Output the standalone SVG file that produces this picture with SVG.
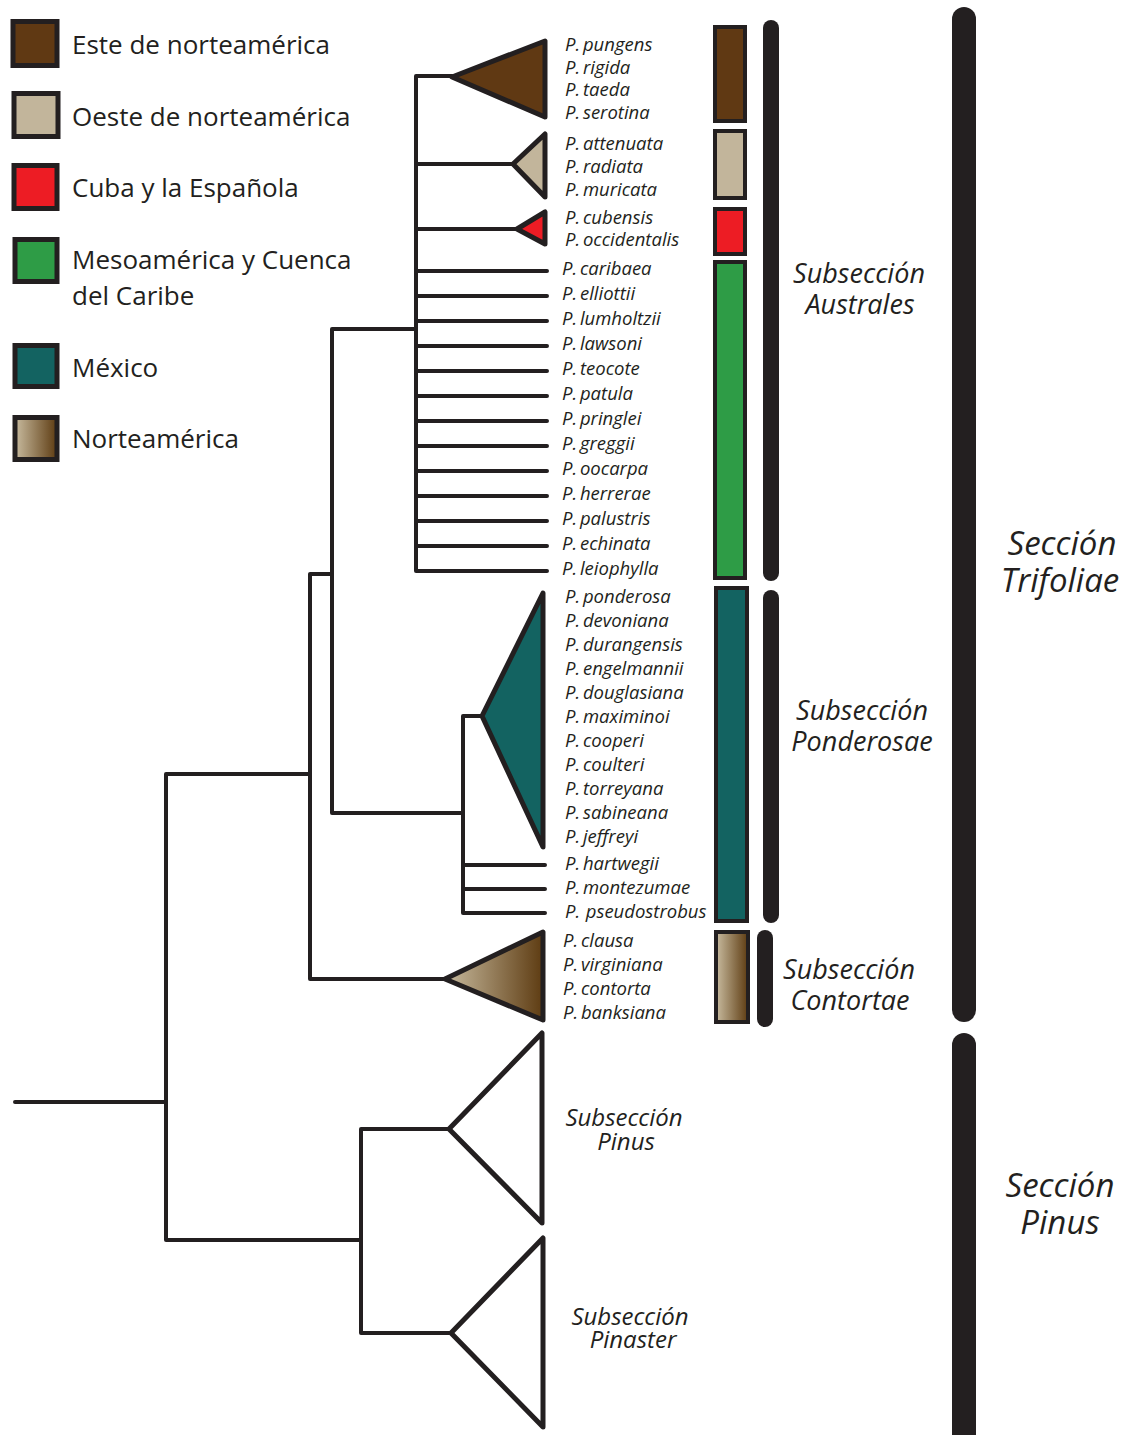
<svg xmlns="http://www.w3.org/2000/svg" width="1123" height="1435" viewBox="0 0 1123 1435">
<style>
.ln{fill:none;stroke:#231f20;stroke-width:4;stroke-linecap:round;stroke-linejoin:miter}
.tri{stroke:#231f20;stroke-width:5;stroke-linejoin:round}
.box{stroke:#231f20;stroke-width:5}
.bar{stroke:#231f20;stroke-width:4}
.blk{fill:#231f20}
.leg{font-family:"Open Sans","Noto Sans",sans-serif;font-size:26px;fill:#231f20}
.sp{font-family:"Open Sans","Noto Sans",sans-serif;font-style:italic;font-size:18.5px;fill:#231f20;white-space:pre;word-spacing:-2px}
.sub{font-family:"Open Sans","Noto Sans",sans-serif;font-style:italic;font-size:27px;fill:#231f20;text-anchor:middle}
.sub2{font-family:"Open Sans","Noto Sans",sans-serif;font-style:italic;font-size:24px;fill:#231f20;text-anchor:middle}
.sec{font-family:"Open Sans","Noto Sans",sans-serif;font-style:italic;font-size:33px;fill:#231f20;text-anchor:middle}
.c1{fill:#603913}.c2{fill:#c2b59b}.c3{fill:#ed1c24}.c4{fill:#2e9c46}.c5{fill:#136361}.c6{fill:url(#grad)}
</style>
<defs>
<linearGradient id="grad" x1="0" y1="0" x2="1" y2="0">
<stop offset="0" stop-color="#c8bb9f"/>
<stop offset="1" stop-color="#5e3c12"/>
</linearGradient>
</defs>

<g id="legend">
<g id="leg-este"><rect class="box c1" x="13" y="21.5" width="44" height="44"/><text class="leg" x="72" y="54">Este de norteamérica</text></g>
<g id="leg-oeste"><rect class="box c2" x="14" y="93.5" width="44" height="43"/><text class="leg" x="72" y="126">Oeste de norteamérica</text></g>
<g id="leg-cuba"><rect class="box c3" x="14" y="165.5" width="43" height="43"/><text class="leg" x="72" y="197">Cuba y la Española</text></g>
<g id="leg-meso"><rect class="box c4" x="15" y="239.5" width="42" height="42"/><text class="leg" x="72" y="269">Mesoamérica y Cuenca</text><text class="leg" x="72" y="305">del Caribe</text></g>
<g id="leg-mexico"><rect class="box c5" x="15" y="345.5" width="42" height="41"/><text class="leg" x="72" y="377">México</text></g>
<g id="leg-norte"><rect class="box c6" x="15" y="417.5" width="42" height="42"/><text class="leg" x="72" y="448">Norteamérica</text></g>
</g>

<g id="connectors">
<path class="ln" d="M15,1102H166 M166,774V1240 M166,774H310 M166,1240H361 M361,1129V1333 M361,1129H449 M361,1333H451 M310,574V979 M310,574H332 M310,979H446 M332,329V813 M332,329H416 M332,813H463 M463,716V913 M463,716H482 M463,865H545 M463,889H545 M463,913H545 M416,76V571 M416,76H452 M416,164H513 M416,229H517 M416,271H547 M416,296H547 M416,321H547 M416,346H547 M416,371H547 M416,396H547 M416,421H547 M416,446H547 M416,471H547 M416,496H547 M416,521H547 M416,546H547 M416,571H547"/>
</g>

<g id="clade-este"><polygon class="tri c1" points="452,77 545,41 545,117"/>
<text class="sp" x="565" y="51">P. pungens</text><text class="sp" x="565" y="74">P. rigida</text><text class="sp" x="565" y="96">P. taeda</text><text class="sp" x="565" y="119">P. serotina</text></g>
<g id="clade-oeste"><polygon class="tri c2" points="513,164 545,134 545,197"/>
<text class="sp" x="565" y="150">P. attenuata</text><text class="sp" x="565" y="173">P. radiata</text><text class="sp" x="565" y="196">P. muricata</text></g>
<g id="clade-cuba"><polygon class="tri c3" points="517,229 545,212 545,244"/>
<text class="sp" x="565" y="224">P. cubensis</text><text class="sp" x="565" y="246">P. occidentalis</text></g>
<g id="leaves-meso">
<text class="sp" x="562" y="275">P. caribaea</text>
<text class="sp" x="562" y="300">P. elliottii</text>
<text class="sp" x="562" y="325">P. lumholtzii</text>
<text class="sp" x="562" y="350">P. lawsoni</text>
<text class="sp" x="562" y="375">P. teocote</text>
<text class="sp" x="562" y="400">P. patula</text>
<text class="sp" x="562" y="425">P. pringlei</text>
<text class="sp" x="562" y="450">P. greggii</text>
<text class="sp" x="562" y="475">P. oocarpa</text>
<text class="sp" x="562" y="500">P. herrerae</text>
<text class="sp" x="562" y="525">P. palustris</text>
<text class="sp" x="562" y="550">P. echinata</text>
<text class="sp" x="562" y="575">P. leiophylla</text>
</g>
<g id="clade-mexico"><polygon class="tri c5" points="482,716 543,593 543,847"/>
<text class="sp" x="565" y="603">P. ponderosa</text>
<text class="sp" x="565" y="627">P. devoniana</text>
<text class="sp" x="565" y="651">P. durangensis</text>
<text class="sp" x="565" y="675">P. engelmannii</text>
<text class="sp" x="565" y="699">P. douglasiana</text>
<text class="sp" x="565" y="723">P. maximinoi</text>
<text class="sp" x="565" y="747">P. cooperi</text>
<text class="sp" x="565" y="771">P. coulteri</text>
<text class="sp" x="565" y="795">P. torreyana</text>
<text class="sp" x="565" y="819">P. sabineana</text>
<text class="sp" x="565" y="843">P. jeffreyi</text>
<text class="sp" x="565" y="870">P. hartwegii</text>
<text class="sp" x="565" y="894">P. montezumae</text>
<text class="sp" x="565" y="918">P.  pseudostrobus</text>
</g>
<g id="clade-contortae"><polygon class="tri c6" points="445,979 543,932 543,1020"/>
<text class="sp" x="563" y="947">P. clausa</text><text class="sp" x="563" y="971">P. virginiana</text><text class="sp" x="563" y="995">P. contorta</text><text class="sp" x="563" y="1019">P. banksiana</text></g>
<g id="clade-pinus"><polygon class="tri" fill="#fff" points="449,1129 542,1033 542,1223"/>
<text class="sub2" x="624" y="1126">Subsección</text><text class="sub2" x="626" y="1150">Pinus</text></g>
<g id="clade-pinaster"><polygon class="tri" fill="#fff" points="451,1333 543,1238 543,1427"/>
<text class="sub2" x="630" y="1325">Subsección</text><text class="sub2" x="633" y="1348">Pinaster</text></g>

<g id="region-bars">
<rect class="bar c1" x="715" y="27" width="30" height="94"/>
<rect class="bar c2" x="715" y="131" width="30" height="67"/>
<rect class="bar c3" x="715" y="209" width="30" height="45"/>
<rect class="bar c4" x="715" y="262" width="30" height="316"/>
<rect class="bar c5" x="716" y="588" width="31" height="333"/>
<rect class="bar c6" x="716" y="932" width="32" height="90"/>
</g>

<g id="subsection-australes"><rect class="blk" x="763" y="20" width="16" height="561" rx="8"/>
<text class="sub" x="859" y="283">Subsección</text><text class="sub" x="860" y="314">Australes</text></g>
<g id="subsection-ponderosae"><rect class="blk" x="763" y="590" width="16" height="333" rx="8"/>
<text class="sub" x="862" y="720">Subsección</text><text class="sub" x="862" y="751">Ponderosae</text></g>
<g id="subsection-contortae"><rect class="blk" x="757" y="930" width="16" height="97" rx="8"/>
<text class="sub" x="849" y="979">Subsección</text><text class="sub" x="850" y="1010">Contortae</text></g>
<g id="section-trifoliae"><rect class="blk" x="952" y="7" width="24" height="1015" rx="12"/>
<text class="sec" x="1062" y="555">Sección</text><text class="sec" x="1060" y="592">Trifoliae</text></g>
<g id="section-pinus"><rect class="blk" x="952" y="1033" width="24" height="420" rx="12"/>
<text class="sec" x="1060" y="1197">Sección</text><text class="sec" x="1060" y="1234">Pinus</text></g>
</svg>
